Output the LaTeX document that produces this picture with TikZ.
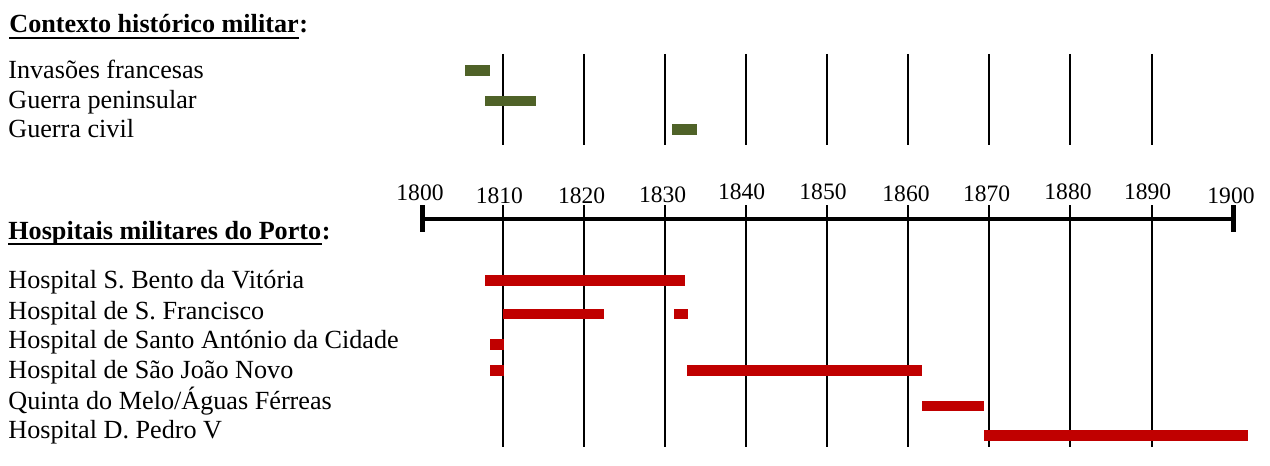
\documentclass[tikz,border=0pt]{standalone}
\usepackage{fontspec}
\setmainfont{Liberation Serif}
\definecolor{olivebar}{HTML}{4F6228}
\definecolor{redbar}{HTML}{C00000}
\begin{document}
\begin{tikzpicture}[x=0.02cm,y=-0.02cm,
  lbl/.style={anchor=base west,inner sep=0pt,font=\fontsize{14.9}{18}\selectfont},
  ttl/.style={anchor=base west,inner sep=0pt,font=\fontsize{14.9}{18}\selectfont\bfseries},
  yr/.style={anchor=base,inner sep=0pt,font=\fontsize{13.4}{15}\selectfont},
  gridline/.style={line width=1pt},
  axisline/.style={line width=2.8pt},
  ulinestyle/.style={line width=1.2pt},
  war/.style={fill=olivebar},
  hosp/.style={fill=redbar}]
\useasboundingbox (0,0) rectangle (1270,466);

% grid lines
\foreach \x in {503.3,584.3,665.3,746.3,827.3,908.3,989.3,1070.3,1152.3}{
  \draw[gridline] (\x,54) -- (\x,145);
  \draw[gridline] (\x,205) -- (\x,447);
}

% axis
\coordinate (a0) at (422.7,219);
\coordinate (a1) at (1233.3,219);
\draw[axisline] (a0) -- (a1);
\draw[axisline] (422.7,205) -- (422.7,232);
\draw[axisline] (1233.3,205) -- (1233.3,232);

% year labels
\node[yr] (y1800) at (420,200.7) {1800};
\node[yr] (y1810) at (499.3,203.3) {1810};
\node[yr] (y1820) at (581.7,203) {1820};
\node[yr] (y1830) at (662.7,202) {1830};
\node[yr] (y1840) at (741.7,199.3) {1840};
\node[yr] (y1850) at (823,199.3) {1850};
\node[yr] (y1860) at (906,201) {1860};
\node[yr] (y1870) at (986.7,201) {1870};
\node[yr] (y1880) at (1068,199.3) {1880};
\node[yr] (y1890) at (1147.7,199.3) {1890};
\node[yr] (y1900) at (1231,203.3) {1900};

% titles
\node[ttl] (t1) at (9,32.5) {Contexto histórico militar};
\node[ttl] (t1c) at (t1.base east) {:};
\draw[ulinestyle] ([yshift=-0.11cm]t1.base west) -- ([yshift=-0.11cm]t1.base east);
\node[ttl] (t2) at (8,239.3) {Hospitais militares do Porto};
\node[ttl] (t2c) at (t2.base east) {:};
\draw[ulinestyle] ([yshift=-0.09cm]t2.base west) -- ([yshift=-0.09cm]t2.base east);

% military context labels
\node[lbl] (w1) at (8,78.7) {Invasões francesas};
\node[lbl] (w2) at (8,108.3) {Guerra peninsular};
\node[lbl] (w3) at (8,137.3) {Guerra civil};

% hospital labels
\node[lbl] (h1) at (8,288.3) {Hospital S. Bento da Vitória};
\node[lbl] (h2) at (8,319.3) {Hospital de S. Francisco};
\node[lbl] (h3) at (8,348.3) {Hospital de Santo António da Cidade};
\node[lbl] (h4) at (8,378.3) {Hospital de São João Novo};
\node[lbl] (h5) at (8,409.3) {Quinta do Melo/Águas Férreas};
\node[lbl] (h6) at (8,438.3) {Hospital D. Pedro V};

% war bars
\fill[war] (465,65) rectangle (490,75.7);
\fill[war] (485,96) rectangle (536,105.7);
\fill[war] (672,124) rectangle (696.7,134.7);

% hospital bars
\fill[hosp] (485,275) rectangle (685,285.7);
\fill[hosp] (503.3,309) rectangle (604,319);
\fill[hosp] (674,309) rectangle (688,319);
\fill[hosp] (490,339) rectangle (504,350);
\fill[hosp] (490,365) rectangle (504,376);
\fill[hosp] (687,365) rectangle (922,376);
\fill[hosp] (922,401) rectangle (984,411);
\fill[hosp] (984,430) rectangle (1248,440.7);
\end{tikzpicture}
\end{document}
